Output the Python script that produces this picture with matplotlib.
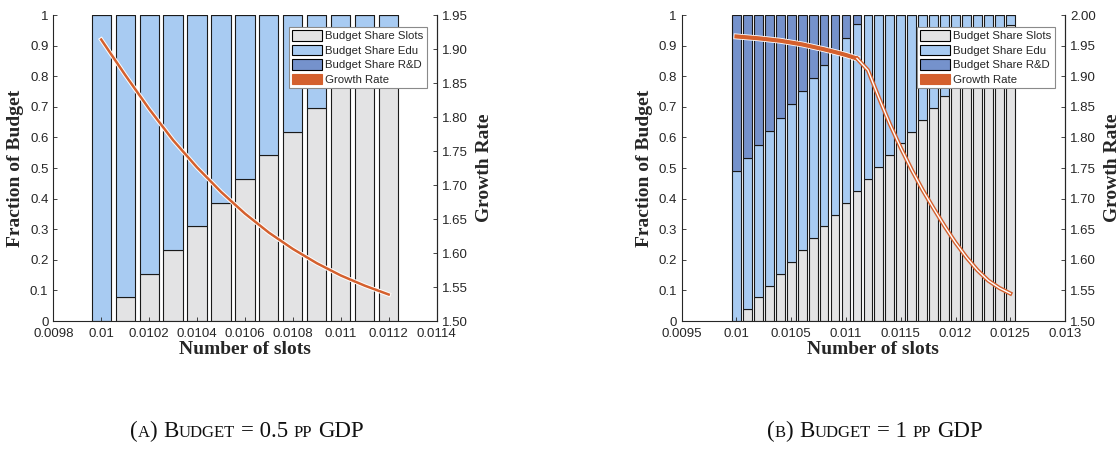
import matplotlib
matplotlib.use("Agg")
import matplotlib.pyplot as plt
import matplotlib.patheffects as pe
from matplotlib.patches import Patch
from matplotlib.transforms import IdentityTransform

# ---- data: panel (a), budget = 0.5 pp GDP ----
slots_x_a = [0.0100, 0.0101, 0.0102, 0.0103, 0.0104, 0.0105, 0.0106,
             0.0107, 0.0108, 0.0109, 0.0110, 0.0111, 0.0112]
share_slots_a = [0.000, 0.077, 0.155, 0.232, 0.310, 0.387, 0.464,
                 0.541, 0.619, 0.696, 0.773, 0.851, 0.928]
share_edu_a = [1.000, 0.923, 0.845, 0.768, 0.690, 0.613, 0.536,
               0.459, 0.381, 0.304, 0.227, 0.149, 0.072]
share_rd_a = [0.0, 0.0, 0.0, 0.0, 0.0, 0.0, 0.0, 0.0, 0.0, 0.0, 0.0, 0.0, 0.0]
growth_a = [1.914, 1.862, 1.812, 1.766, 1.726, 1.690, 1.658,
            1.630, 1.606, 1.585, 1.567, 1.552, 1.539]

# ---- data: panel (b), budget = 1 pp GDP ----
slots_x_b = [0.0100, 0.0101, 0.0102, 0.0103, 0.0104, 0.0105, 0.0106,
             0.0107, 0.0108, 0.0109, 0.0110, 0.0111, 0.0112, 0.0113,
             0.0114, 0.0115, 0.0116, 0.0117, 0.0118, 0.0119, 0.0120,
             0.0121, 0.0122, 0.0123, 0.0124, 0.0125]
share_slots_b = [0.000, 0.038, 0.077, 0.115, 0.155, 0.193, 0.232, 0.270,
                 0.309, 0.347, 0.387, 0.425, 0.463, 0.502, 0.541, 0.581,
                 0.619, 0.657, 0.696, 0.734, 0.773, 0.812, 0.850, 0.889,
                 0.928, 0.966]
share_edu_b = [0.489, 0.496, 0.499, 0.507, 0.509, 0.515, 0.521, 0.524,
               0.529, 0.533, 0.539, 0.546, 0.537, 0.498, 0.459, 0.419,
               0.381, 0.343, 0.304, 0.266, 0.227, 0.188, 0.150, 0.111,
               0.072, 0.034]
share_rd_b = [0.511, 0.466, 0.424, 0.378, 0.336, 0.292, 0.247, 0.206,
              0.162, 0.120, 0.074, 0.029, 0.0, 0.0, 0.0, 0.0, 0.0, 0.0,
              0.0, 0.0, 0.0, 0.0, 0.0, 0.0, 0.0, 0.0]
growth_b = [1.965, 1.9635, 1.962, 1.960, 1.958, 1.955, 1.952, 1.948,
            1.944, 1.9395, 1.9347, 1.929, 1.910, 1.865, 1.822, 1.783,
            1.747, 1.714, 1.684, 1.655, 1.628, 1.604, 1.583, 1.566,
            1.554, 1.545]

xticks_a = [0.0098, 0.0100, 0.0102, 0.0104, 0.0106, 0.0108, 0.0110, 0.0112, 0.0114]
xticks_b = [0.0095, 0.0100, 0.0105, 0.0110, 0.0115, 0.0120, 0.0125, 0.0130]
yticks_left = [0, 0.1, 0.2, 0.3, 0.4, 0.5, 0.6, 0.7, 0.8, 0.9, 1]
yticks_right_a = [1.50, 1.55, 1.60, 1.65, 1.70, 1.75, 1.80, 1.85, 1.90, 1.95]
yticks_right_b = [1.50, 1.55, 1.60, 1.65, 1.70, 1.75, 1.80, 1.85, 1.90, 1.95, 2.00]

legend_labels = ["Budget Share Slots", "Budget Share Edu",
                 "Budget Share R&D", "Growth Rate"]

C_SLOTS = "#e3e3e4"
C_EDU = "#a8cbf2"
C_RD = "#7592cc"
C_GROWTH = "#d4602e"
C_AX = "#262626"
SANS = "Liberation Sans"
SERIF = "Liberation Serif"

fig = plt.figure(figsize=(11.19, 4.49), dpi=100)


def style_axes(ax, ax2):
    for a in (ax, ax2):
        a.spines["top"].set_visible(False)
        for s in ("left", "right", "bottom"):
            a.spines[s].set_color(C_AX)
            a.spines[s].set_linewidth(0.8)
        a.tick_params(direction="in", length=3, width=0.6, color=C_AX,
                      labelcolor=C_AX, labelsize=9.5)
        a.tick_params(axis="x", pad=5)
        for lab in a.get_xticklabels() + a.get_yticklabels():
            lab.set_fontfamily(SANS)
    ax2.spines["left"].set_visible(False)
    ax2.spines["bottom"].set_visible(False)


def draw_panel(rect, xs, slots, edu, rd, growth, xlim, xticks,
               ylim2, yticks2, thick_upto=None):
    ax = fig.add_axes(rect)
    w = 0.00008
    ax.bar(xs, slots, width=w, color=C_SLOTS, edgecolor="#1a1a1a", linewidth=0.8)
    bottoms = slots
    ax.bar(xs, edu, width=w, bottom=bottoms, color=C_EDU,
           edgecolor="#1a1a1a", linewidth=0.8)
    bottoms = [s + e for s, e in zip(slots, edu)]
    ax.bar(xs, rd, width=w, bottom=bottoms, color=C_RD,
           edgecolor="#1a1a1a", linewidth=0.8)
    ax.set_xlim(*xlim)
    ax.set_ylim(0, 1)
    ax.set_xticks(xticks)
    ax.set_xticklabels([f"{round(v, 5):g}" for v in xticks])
    ax.set_yticks(yticks_left)
    ax.set_yticklabels([f"{v:g}" for v in yticks_left])
    ax.set_xlabel("Number of slots", fontfamily=SERIF, fontweight="bold",
                  fontsize=14, color=C_AX, labelpad=1)
    ax.set_ylabel("Fraction of Budget", fontfamily=SERIF, fontweight="bold",
                  fontsize=14, color=C_AX, labelpad=4)

    ax2 = ax.twinx()
    halo = [pe.Stroke(linewidth=3.2, foreground="white"), pe.Normal()]
    if thick_upto is None:
        ax2.plot(xs, growth, color=C_GROWTH, linewidth=1.8, path_effects=halo)
    else:
        n = thick_upto
        ax2.plot(xs[:n + 1], growth[:n + 1], color=C_GROWTH, linewidth=3.0,
                 path_effects=[pe.Stroke(linewidth=4.2, foreground="white"), pe.Normal()])
        ax2.plot(xs[n:], growth[n:], color="white", linewidth=1.0,
                 path_effects=[pe.Stroke(linewidth=3.0, foreground=C_GROWTH), pe.Normal()])
    ax2.set_ylim(*ylim2)
    ax2.set_yticks(yticks2)
    ax2.set_yticklabels([f"{v:.2f}" for v in yticks2])
    ax2.set_ylabel("Growth Rate", fontfamily=SERIF, fontweight="bold",
                   fontsize=14, color=C_AX, labelpad=6)
    style_axes(ax, ax2)

    handles = [Patch(facecolor=C_SLOTS, edgecolor="black", linewidth=0.8),
               Patch(facecolor=C_EDU, edgecolor="black", linewidth=0.8),
               Patch(facecolor=C_RD, edgecolor="black", linewidth=0.8),
               Patch(facecolor=C_GROWTH, edgecolor=C_GROWTH, linewidth=0.8)]
    leg = ax2.legend(handles, legend_labels, loc="upper right",
                     bbox_to_anchor=(0.974, 0.962), borderaxespad=0,
                     fancybox=False, framealpha=1, edgecolor="#8a8a8a",
                     prop={"family": SANS, "size": 8.2}, handlelength=2.6,
                     handleheight=1.05, labelspacing=0.3, handletextpad=0.3,
                     borderpad=0.3)
    leg.get_frame().set_linewidth(0.8)
    for t in leg.get_texts():
        t.set_color(C_AX)
    return ax


draw_panel([0.0476, 0.285, 0.3426, 0.6815], slots_x_a, share_slots_a,
           share_edu_a, share_rd_a, growth_a, (0.0098, 0.0114), xticks_a,
           (1.50, 1.95), yticks_right_a)
draw_panel([0.6092, 0.285, 0.3426, 0.6815], slots_x_b, share_slots_b,
           share_edu_b, share_rd_b, growth_b, (0.0095, 0.0130), xticks_b,
           (1.50, 2.00), yticks_right_b, thick_upto=11)


# captions in small caps, built from pieces (text, size)
def caption(x_center, y_base, pieces):
    renderer = fig.canvas.get_renderer()
    arts = []
    widths = []
    for txt, size in pieces:
        if txt == " ":
            arts.append(None)
            widths.append(6)
            continue
        t = fig.text(0, y_base, txt, transform=IdentityTransform(),
                     fontfamily=SERIF, fontsize=size, color="#111111",
                     va="baseline", ha="left")
        arts.append(t)
        widths.append(t.get_window_extent(renderer).width)
    x = x_center - sum(widths) / 2
    for t, wd in zip(arts, widths):
        if t is not None:
            t.set_x(x)
        x += wd


big, small = 16.5, 12
caption(247, 12, [("(", big), ("A", small), (")", big), (" ", 0), ("B", big),
                  ("UDGET", small), (" ", 0), ("= 0.5", big), (" ", 0),
                  ("PP", small), (" ", 0), ("GDP", big)])
caption(875, 12, [("(", big), ("B", small), (")", big), (" ", 0), ("B", big),
                  ("UDGET", small), (" ", 0), ("= 1", big), (" ", 0),
                  ("PP", small), (" ", 0), ("GDP", big)])

fig.savefig("out.png", dpi=100)
